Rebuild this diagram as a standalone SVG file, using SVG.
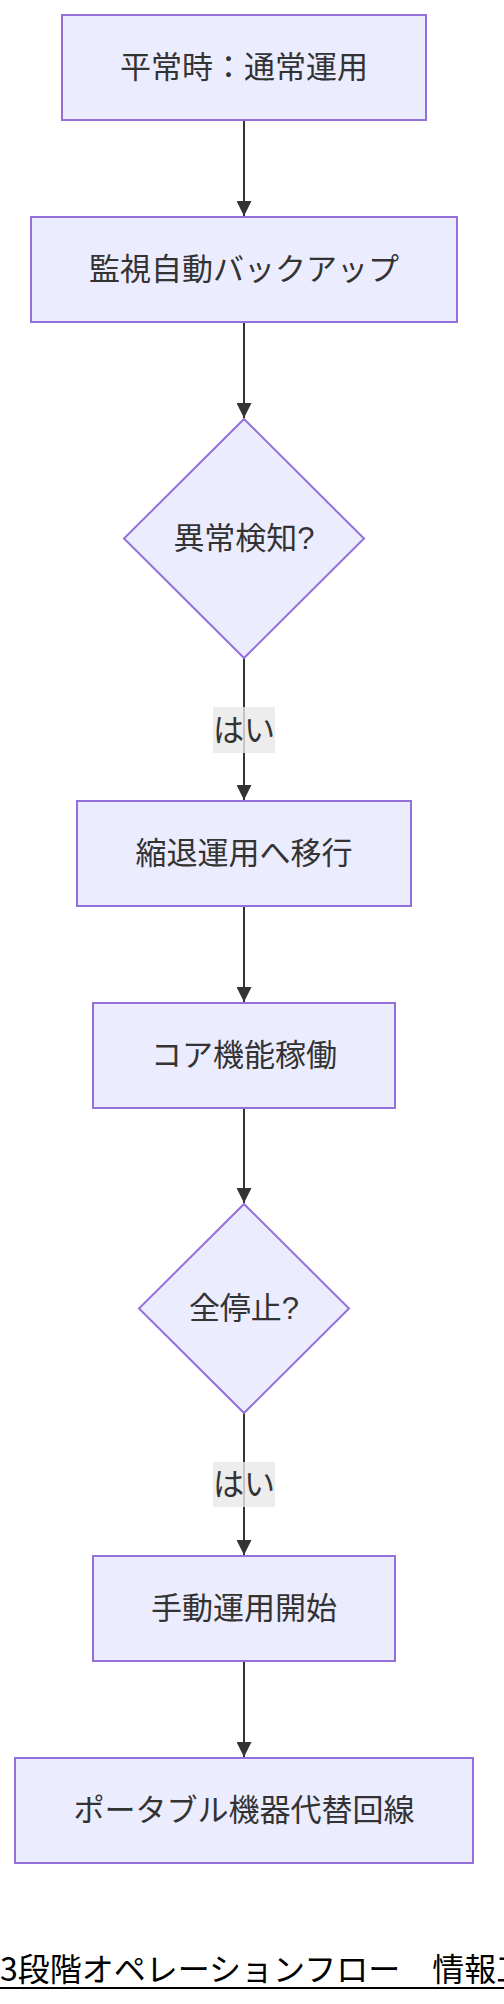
<svg xmlns="http://www.w3.org/2000/svg" width="504" height="2004" viewBox="0 0 504 2004">
<defs>
<style>
.node rect,.node polygon{fill:#ECECFF;stroke:#9370DB;stroke-width:2}
.lbl{font-family:"Liberation Sans","Noto Sans CJK JP",sans-serif;font-size:31px;fill:#333;text-anchor:middle;dominant-baseline:central}
.edge{stroke:#333;stroke-width:2;fill:none}
.elbg{fill:#e8e8e8;opacity:0.8}
.title{font-family:"Noto Sans CJK JP","Liberation Sans",sans-serif;font-size:32px;fill:#000}
</style>
<marker id="arrow" viewBox="0 0 10 10" refX="10" refY="5" markerWidth="16" markerHeight="15" markerUnits="userSpaceOnUse" orient="auto">
<path d="M0,0 L10,5 L0,10 z" fill="#333"/>
</marker>
</defs>
<rect width="504" height="2004" fill="#fff"/>
<g id="edges">
<line class="edge" x1="244" y1="120" x2="244" y2="216" marker-end="url(#arrow)"/>
<line class="edge" x1="244" y1="322" x2="244" y2="418" marker-end="url(#arrow)"/>
<line class="edge" x1="244" y1="658" x2="244" y2="800" marker-end="url(#arrow)"/>
<line class="edge" x1="244" y1="906" x2="244" y2="1002" marker-end="url(#arrow)"/>
<line class="edge" x1="244" y1="1108" x2="244" y2="1203" marker-end="url(#arrow)"/>
<line class="edge" x1="244" y1="1413" x2="244" y2="1555" marker-end="url(#arrow)"/>
<line class="edge" x1="244" y1="1661" x2="244" y2="1757" marker-end="url(#arrow)"/>
<g id="edge-label-1"><rect class="elbg" x="213" y="707" width="62" height="46"/><text class="lbl" x="244" y="730">はい</text></g>
<g id="edge-label-2"><rect class="elbg" x="213" y="1462" width="62" height="45"/><text class="lbl" x="244" y="1484.5">はい</text></g>
</g>
<g id="node-normal" class="node"><rect x="62" y="15" width="364" height="105"/><text class="lbl" x="244" y="67.5">平常時：通常運用</text></g>
<g id="node-backup" class="node"><rect x="31" y="217" width="426" height="105"/><text class="lbl" x="244" y="269.5">監視自動バックアップ</text></g>
<g id="node-detect" class="node"><polygon points="244,419 364,538.5 244,658 124,538.5"/><text class="lbl" x="244" y="538">異常検知?</text></g>
<g id="node-degrade" class="node"><rect x="77" y="801" width="334" height="105"/><text class="lbl" x="244" y="853.5">縮退運用へ移行</text></g>
<g id="node-core" class="node"><rect x="93" y="1003" width="302" height="105"/><text class="lbl" x="244" y="1055.5">コア機能稼働</text></g>
<g id="node-stop" class="node"><polygon points="244,1204 349,1308.5 244,1413 139,1308.5"/><text class="lbl" x="244" y="1308">全停止?</text></g>
<g id="node-manual" class="node"><rect x="93" y="1556" width="302" height="105"/><text class="lbl" x="244" y="1608.5">手動運用開始</text></g>
<g id="node-portable" class="node"><rect x="15" y="1758" width="458" height="105"/><text class="lbl" x="244" y="1810.5">ポータブル機器代替回線</text></g>
<g id="title"><text class="title" x="0" y="1981">3段階オペレーションフロー　情報工</text><line x1="0" y1="1988" x2="504" y2="1988" stroke="#000" stroke-width="2"/></g>
</svg>
